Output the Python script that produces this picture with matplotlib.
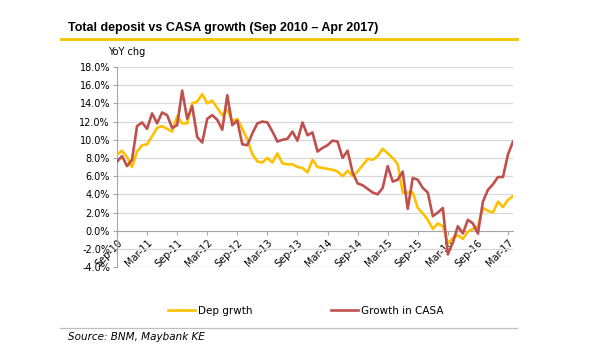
import numpy as np
import matplotlib as mpl

mpl.use('Agg')
import matplotlib.pyplot as plt
from matplotlib.lines import Line2D

# Monthly YoY growth, Sep 2010 - Apr 2017
months = ['Sep-10', 'Mar-11', 'Sep-11', 'Mar-12', 'Sep-12', 'Mar-13', 'Sep-13',
          'Mar-14', 'Sep-14', 'Mar-15', 'Sep-15', 'Mar-16', 'Sep-16', 'Mar-17']
dep_growth = [8.35, 8.8, 8.1, 7.0, 8.7, 9.4, 9.5, 10.4, 11.3, 11.5,
              11.2, 10.9, 12.6, 11.8, 11.8, 14.0, 14.2, 15.0, 14.0, 14.3,
              13.5, 12.7, 13.3, 12.0, 12.3, 11.2, 10.0, 8.4, 7.6, 7.5,
              8.0, 7.5, 8.5, 7.4, 7.3, 7.3, 7.0, 6.9, 6.4, 7.8,
              7.0, 6.9, 6.8, 6.7, 6.5, 6.0, 6.6, 6.0, 6.5, 7.2,
              7.9, 7.8, 8.2, 9.0, 8.5, 8.0, 7.3, 4.2, 4.2, 4.2,
              2.5, 1.9, 1.2, 0.2, 0.8, 0.5, -1.4, -0.8, -0.5, -0.9,
              -0.1, 0.2, 0.5, 2.5, 2.2, 2.0, 3.2, 2.6, 3.4, 3.8]
casa_growth = [7.6, 8.2, 7.1, 7.8, 11.5, 11.9, 11.2, 12.9, 11.8, 13.0,
               12.7, 11.3, 11.6, 15.4, 12.3, 13.7, 10.3, 9.7, 12.3, 12.7,
               12.2, 11.1, 14.9, 11.6, 12.1, 9.5, 9.4, 10.7, 11.8, 12.0,
               11.9, 10.9, 9.8, 10.0, 10.1, 10.9, 9.9, 11.9, 10.5, 10.8,
               8.7, 9.1, 9.4, 9.9, 9.8, 8.0, 8.8, 6.4, 5.2, 5.0,
               4.6, 4.2, 4.0, 4.7, 7.1, 5.4, 5.6, 6.5, 2.4, 5.8,
               5.6, 4.7, 4.2, 1.6, 2.0, 2.5, -2.6, -1.3, 0.5, -0.3,
               1.2, 0.8, -0.3, 3.2, 4.5, 5.1, 5.9, 5.9, 8.4, 9.8]

plt.rcParams['font.family'] = ['DejaVu Sans']

fig = plt.figure(figsize=(6, 3.6), dpi=100)
ax = fig.add_axes([0.195, 0.258, 0.66, 0.556])

# category axis crosses at 0 (set before tick labels, it resets them)
ax.spines['bottom'].set_position(('data', 0))
for s in ['top', 'right']:
    ax.spines[s].set_visible(False)
ax.spines['left'].set_color('#A6A6A6')
ax.spines['bottom'].set_color('#A6A6A6')

x = np.arange(len(dep_growth))
ax.plot(x, dep_growth, color='#FFC000', lw=1.9, label='Dep grwth', zorder=3)
ax.plot(x, casa_growth, color='#C0504D', lw=1.9, label='Growth in CASA', zorder=4)

ax.set_xlim(0, len(x) - 1)
ax.set_ylim(-4, 18)
ax.set_yticks(np.arange(-4, 19, 2))
ax.set_yticklabels(['%.1f%%' % v for v in np.arange(-4, 19, 2)], fontsize=7)
ax.grid(axis='y', color='#D9D9D9', lw=0.9)
ax.set_axisbelow(True)

ax.set_xticks(np.arange(0, len(x), 6))
ax.set_xticklabels(months, rotation=45, ha='right', rotation_mode='anchor', fontsize=7)
ax.tick_params(axis='both', colors='#A6A6A6', labelcolor='black', length=3, width=0.8, pad=2)

# header
fig.text(0.113, 0.922, 'Total deposit vs CASA growth (Sep 2010 \u2013 Apr 2017)',
         fontsize=9, fontweight='bold', va='center', family=['Liberation Sans', 'DejaVu Sans'])
fig.add_artist(Line2D([0.102, 0.862], [0.892, 0.892], color='#F2C80F', lw=2.2))
fig.text(0.18, 0.855, 'YoY chg', fontsize=7, va='center')

fig.legend(loc='center', bbox_to_anchor=(0.51, 0.136), ncol=2, frameon=False,
           fontsize=7.5, handlelength=2.6, handletextpad=0.3, columnspacing=7.5)

# footer
fig.add_artist(Line2D([0.1, 0.862], [0.089, 0.089], color='#BFBFBF', lw=0.9))
fig.text(0.113, 0.063, 'Source: BNM, Maybank KE', fontsize=7.5, style='italic', va='center')

plt.savefig('out.png')
